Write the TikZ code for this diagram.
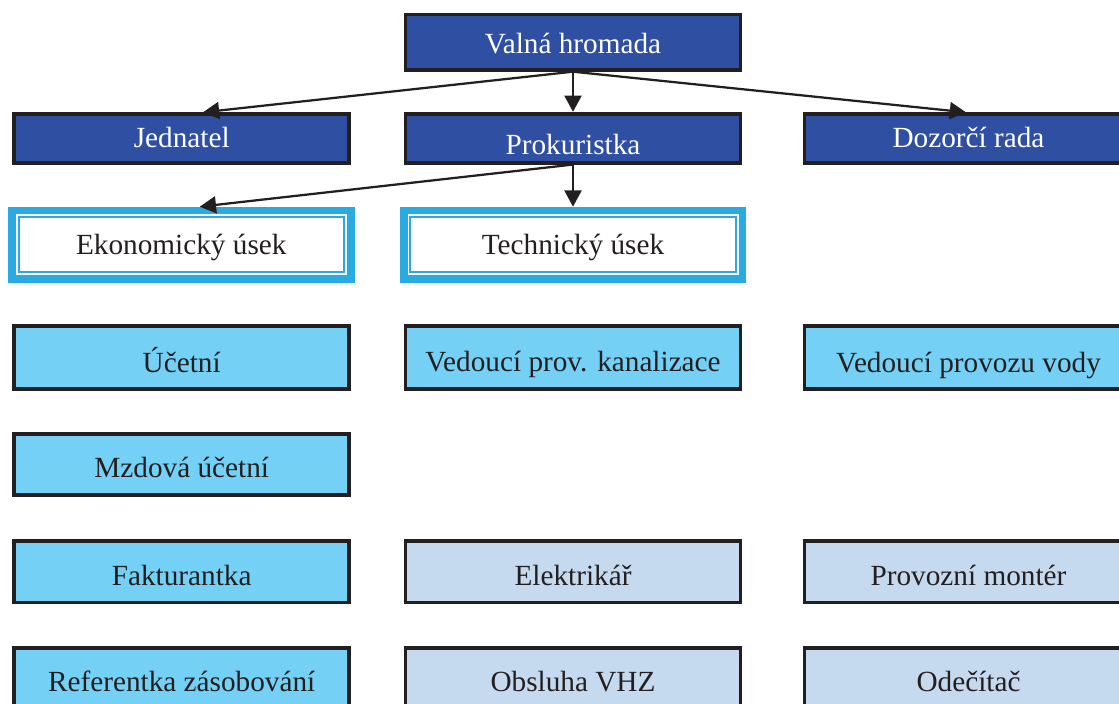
\documentclass[tikz,border=0pt]{standalone}
\usepackage{fontspec}
\setmainfont{Liberation Serif}
\usetikzlibrary{arrows.meta}

\definecolor{darkblue}{RGB}{46,79,162}
\definecolor{skyblue}{RGB}{117,208,245}
\definecolor{paleblue}{RGB}{197,218,238}
\definecolor{unitcyan}{RGB}{41,171,226}
\definecolor{inkblack}{RGB}{35,31,32}

\begin{document}
\begin{tikzpicture}[x=0.4pt,y=-0.4pt,font=\fontsize{11.7pt}{14pt}\selectfont,
    box/.style={draw=inkblack,line width=1.5pt,minimum width=134pt,minimum height=24.5pt,
                inner sep=0pt,text height=10.8pt,text depth=0pt,text=inkblack},
    boss/.style={box,fill=darkblue,text=white,minimum height=19.6pt,text height=7.2pt},
    staff/.style={box,fill=skyblue},
    worker/.style={box,fill=paleblue},
    unit/.style={box,draw=unitcyan,line width=3.1pt,fill=white,minimum width=135.5pt,
                 minimum height=27.3pt,text height=8.2pt},
    side/.style={minimum width=131.2pt}]
    \useasboundingbox (0,0) rectangle (1119,704);

    % vedeni
    \node[boss,minimum height=22.1pt,text height=8.9pt] (valna) at (573,42.2) {Valná hromada};
    \node[boss] (jednatel) at (181.7,138.7) {Jednatel};
    \node[boss,text height=13.4pt] (prokuristka) at (573,138.2) {Prokuristka};
    \node[boss,side] (dozorci) at (968.5,138.7) {Dozorčí rada};

    % useky
    \node[unit] (ekon) at (181.3,244.7) {Ekonomický úsek};
    \node[unit] (tech) at (573,244.7) {Technický úsek};
    \foreach \u in {ekon,tech}
        \draw[unitcyan,line width=0.8pt] ([shift={(4.2pt,4.2pt)}]\u.south west)
            rectangle ([shift={(-4.2pt,-4.2pt)}]\u.north east);

    % zamestnanci
    \node[staff,minimum height=25.3pt,text height=11.8pt] (ucetni) at (181.7,357.5) {Účetní};
    \node[staff,minimum height=25.3pt,text height=11.6pt] (kanal) at (573,357.5) {Vedoucí prov. kanalizace};
    \node[staff,side,minimum height=25.3pt,text height=12pt] (voda) at (968.5,357.5) {Vedoucí provozu vody};
    \node[staff] (mzdy) at (181.7,464.5) {Mzdová účetní};
    \node[staff] (faktury) at (181.7,571.8) {Fakturantka};
    \node[worker] (elektro) at (573,571.8) {Elektrikář};
    \node[worker,side] (monter) at (968.5,571.8) {Provozní montér};
    \node[staff] (zasoby) at (181.7,678.5) {Referentka zásobování};
    \node[worker] (vhz) at (573,678.5) {Obsluha VHZ};
    \node[worker,side] (odecet) at (968.5,678.5) {Odečítač};

    \path[-{Triangle[length=6.5pt,width=6.8pt]},color=inkblack,line width=0.9pt]
        (valna.south) edge ([xshift=8.5pt]jednatel.north)
        (valna.south) edge (prokuristka.north)
        (valna.south) edge ([xshift=-1pt]dozorci.north)
        (prokuristka.south) edge ([xshift=7.4pt]ekon.north)
        (prokuristka.south) edge (tech.north);
\end{tikzpicture}
\end{document}
